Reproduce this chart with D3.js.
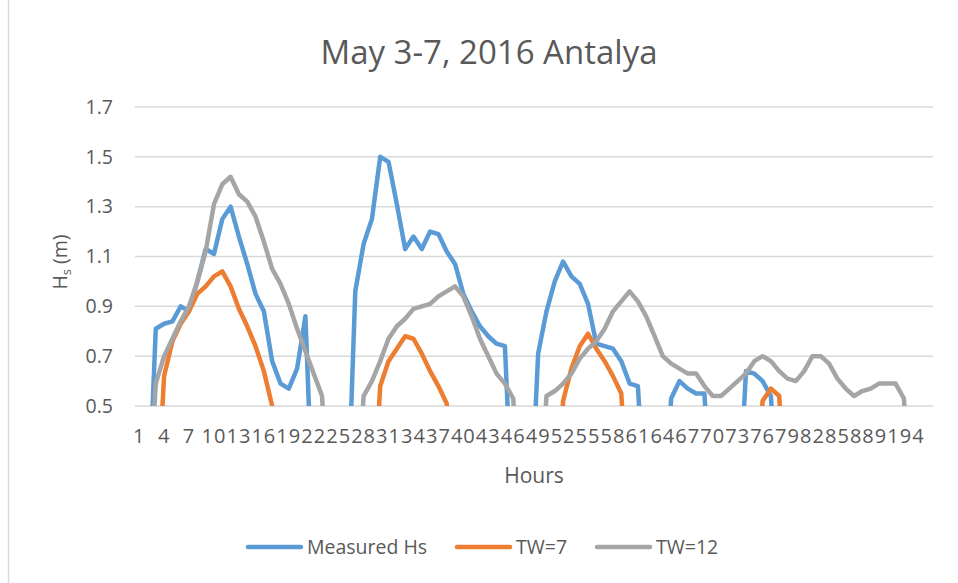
<!DOCTYPE html>
<html>
<head>
<meta charset="utf-8">
<script src="https://cdn.jsdelivr.net/npm/d3@7/dist/d3.min.js"></script>
<style>
  body { margin: 0; background: #fff; }
  svg text { font-family: "Open Sans", "Noto Sans", sans-serif; fill: #595959; }
</style>
</head>
<body>
<svg id="chart" width="958" height="583"></svg>
<script>
// hourly categories on the x axis, labelled every third hour
var hours = d3.range(1, 97);
var hourTicks = [1, 4, 7, 10, 13, 16, 19, 22, 25, 28, 31, 34, 37, 40, 43, 46,
  49, 52, 55, 58, 61, 64, 67, 70, 73, 76, 79, 82, 85, 88, 91, 94];
var hsTicks = [0.5, 0.7, 0.9, 1.1, 1.3, 1.5, 1.7];

// values, one per hour (0 = below the axis minimum)
var measuredHs = [0, 0, 0.81, 0.83, 0.84, 0.90, 0.88, 1.00, 1.13, 1.11,
  1.25, 1.30, 1.18, 1.07, 0.95, 0.88, 0.68, 0.59, 0.57, 0.65,
  0.86, 0, 0, 0, 0, 0, 0.96, 1.15, 1.25, 1.50,
  1.48, 1.31, 1.13, 1.18, 1.13, 1.20, 1.19, 1.12, 1.07, 0.95,
  0.88, 0.82, 0.78, 0.75, 0.74, 0, 0, 0, 0.71, 0.88,
  1.00, 1.08, 1.02, 0.99, 0.91, 0.75, 0.74, 0.73, 0.68, 0.59,
  0.58, 0, 0, 0, 0.53, 0.60, 0.57, 0.55, 0.55, 0,
  0, 0, 0, 0.64, 0.63, 0.60, 0.54, 0, 0, 0,
  0, 0, 0, 0, 0, 0, 0, 0, 0, 0,
  0, 0, 0, 0, 0, 0];
var tw7 = [0, 0, 0, 0.62, 0.76, 0.83, 0.88, 0.95, 0.98, 1.02,
  1.04, 0.98, 0.89, 0.82, 0.74, 0.64, 0.50, 0, 0, 0,
  0, 0, 0, 0, 0, 0, 0, 0, 0, 0.58,
  0.68, 0.73, 0.78, 0.77, 0.71, 0.64, 0.58, 0.51, 0, 0,
  0, 0, 0, 0, 0, 0, 0, 0, 0, 0,
  0, 0.52, 0.65, 0.74, 0.79, 0.73, 0.68, 0.62, 0.55, 0,
  0, 0, 0, 0, 0, 0, 0, 0, 0, 0,
  0, 0, 0, 0, 0, 0.52, 0.57, 0.54, 0, 0,
  0, 0, 0, 0, 0, 0, 0, 0, 0, 0,
  0, 0, 0, 0, 0, 0];
var tw12 = [0, 0, 0.59, 0.70, 0.77, 0.84, 0.90, 1.00, 1.12, 1.31,
  1.39, 1.42, 1.35, 1.32, 1.26, 1.16, 1.05, 0.99, 0.91, 0.81,
  0.72, 0.63, 0.54, 0, 0, 0, 0, 0.54, 0.60, 0.68,
  0.77, 0.82, 0.85, 0.89, 0.90, 0.91, 0.94, 0.96, 0.98, 0.94,
  0.86, 0.77, 0.70, 0.63, 0.59, 0.53, 0, 0, 0, 0.54,
  0.56, 0.59, 0.63, 0.69, 0.73, 0.76, 0.81, 0.88, 0.92, 0.96,
  0.92, 0.86, 0.78, 0.70, 0.67, 0.65, 0.63, 0.63, 0.58, 0.54,
  0.54, 0.57, 0.60, 0.63, 0.68, 0.70, 0.68, 0.64, 0.61, 0.60,
  0.64, 0.70, 0.70, 0.67, 0.61, 0.57, 0.54, 0.56, 0.57, 0.59,
  0.59, 0.59, 0.53, 0, 0, 0];

var seriesNames = ['Measured Hs', 'TW=7', 'TW=12'];
var seriesColors = ['#5b9bd5', '#ed7d31', '#a5a5a5'];

var svg = d3.select('#chart');
var plot = {left: 135, right: 933, top: 107, bottom: 406};

// chart border (only the left edge shows in the original)
svg.append('line')
  .attr('x1', 8.5).attr('x2', 8.5)
  .attr('y1', 0).attr('y2', 583)
  .attr('stroke', '#d9d9d9')
  .attr('stroke-width', 1.5);

var x = d3.scaleBand()
  .domain(hours)
  .range([plot.left, plot.right])
  .padding(0);

var y = d3.scaleLinear()
  .domain([0.5, 1.7])
  .range([plot.bottom, plot.top]);

function cx(h) {
  return x(h) + x.bandwidth() / 2;
}

// gridlines
svg.append('g')
  .attr('class', 'grid')
  .selectAll('line')
  .data(hsTicks)
  .enter()
  .append('line')
  .attr('x1', plot.left)
  .attr('x2', plot.right)
  .attr('y1', function(d) { return y(d); })
  .attr('y2', function(d) { return y(d); })
  .attr('stroke', '#d9d9d9')
  .attr('stroke-width', 1.5);

// y axis labels
var yAxis = svg.append('g')
  .attr('transform', 'translate(' + (plot.left - 22) + ',0)')
  .call(d3.axisLeft(y).tickValues(hsTicks).tickSize(0).tickPadding(0)
    .tickFormat(d3.format('.1f')));
yAxis.select('.domain').remove();
yAxis.selectAll('text').style('font-size', '19.5px');

// x axis labels - they run into each other, like in the original
var xAxis = svg.append('g')
  .attr('transform', 'translate(0,' + (plot.bottom + 23) + ')')
  .call(d3.axisBottom(x).tickValues(hourTicks).tickSize(0).tickPadding(0));
xAxis.select('.domain').remove();
xAxis.selectAll('text')
  .style('font-size', '20px')
  .style('letter-spacing', '1px');

svg.append('clipPath')
  .attr('id', 'plot-clip')
  .append('rect')
  .attr('x', plot.left)
  .attr('y', plot.top - 10)
  .attr('width', plot.right - plot.left)
  .attr('height', plot.bottom - plot.top + 10);

var line = d3.line()
  .x(function(d, i) { return cx(hours[i]); })
  .y(function(d) { return y(d); });

var allSeries = [measuredHs, tw7, tw12];

svg.append('g')
  .attr('clip-path', 'url(#plot-clip)')
  .selectAll('path')
  .data(allSeries)
  .enter()
  .append('path')
  .attr('d', line)
  .attr('fill', 'none')
  .attr('stroke', function(d, i) { return seriesColors[i]; })
  .attr('stroke-width', 4.5)
  .attr('stroke-linejoin', 'round')
  .attr('stroke-linecap', 'round');

// title
svg.append('text')
  .attr('x', 489)
  .attr('y', 64)
  .attr('text-anchor', 'middle')
  .style('font-size', '33px')
  .text('May 3-7, 2016 Antalya');

// axis titles
svg.append('text')
  .attr('x', 534)
  .attr('y', 483)
  .attr('text-anchor', 'middle')
  .style('font-size', '21px')
  .text('Hours');

var yTitle = svg.append('text')
  .attr('transform', 'translate(67,262) rotate(-90)')
  .attr('text-anchor', 'middle')
  .style('font-size', '19.5px');
yTitle.append('tspan').text('H');
yTitle.append('tspan').attr('dy', 4).style('font-size', '13px').text('s');
yTitle.append('tspan').attr('dy', -4).text(' (m)');

// legend
var legendX = [248, 457, 597];
var legend = svg.append('g')
  .attr('class', 'legend')
  .selectAll('g')
  .data(seriesNames)
  .enter()
  .append('g')
  .attr('transform', function(d, i) { return 'translate(' + legendX[i] + ',547)'; });

legend.append('line')
  .attr('x1', 0).attr('x2', 53)
  .attr('y1', 0).attr('y2', 0)
  .attr('stroke', function(d, i) { return seriesColors[i]; })
  .attr('stroke-width', 4.5)
  .attr('stroke-linecap', 'round');

legend.append('text')
  .attr('x', 59)
  .attr('y', 7)
  .style('font-size', '19.5px')
  .text(function(d) { return d; });
</script>
</body>
</html>
